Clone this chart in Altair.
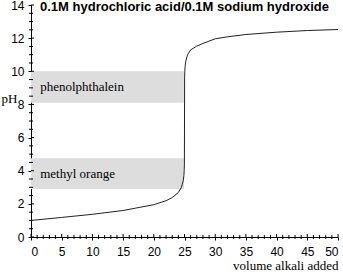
import altair as alt
import pandas as pd

# titration curve
volume = [0, 5, 10, 15, 20, 22, 23, 24, 24.5, 24.8, 24.9, 24.95, 24.98, 25.0,
          25.02, 25.05, 25.1, 25.2, 25.5, 26, 27, 28, 30, 32, 35, 40, 45, 50]
ph = [1.0, 1.18, 1.37, 1.6, 1.95, 2.19, 2.38, 2.69, 3.0, 3.4, 3.7, 4.0, 4.4, 7.0,
      9.6, 10.0, 10.3, 10.6, 11.0, 11.29, 11.52, 11.68, 11.96, 12.08, 12.22, 12.36, 12.46, 12.52]

band_names = ["phenolphthalein", "methyl orange"]
band_low = [8.1, 2.9]
band_high = [10.0, 4.75]
band_start = [0, 0]
band_end = [24.9, 24.9]
label_x = [1.5, 1.5]

x_ticks = list(range(0, 51, 5))
y_ticks = list(range(0, 15, 2))
x_minor = [v for v in range(0, 51) if v % 5 != 0]
y_minor = [v / 2 for v in range(0, 29) if v % 4 != 0]

W, H = 307, 232

curve = pd.DataFrame({"v": volume, "pH": ph})
bands = pd.DataFrame({"name": band_names, "lo": band_low, "hi": band_high,
                      "x0": band_start, "x1": band_end, "tx": label_x})
bands["mid"] = (bands["lo"] + bands["hi"]) / 2

xs = alt.Scale(domain=[0, 50], nice=False, zero=False)
ys = alt.Scale(domain=[0, 14], nice=False, zero=False)

LABEL_FONT = "Liberation Sans Narrow, Liberation Sans, Arial"
SERIF = "Liberation Serif"

xaxis = alt.Axis(values=x_ticks, format="d", tickSize=3, labelPadding=6,
                 grid=False, title="volume alkali added", titleFont=SERIF,
                 titleFontSize=13, titleFontWeight="normal", titleAlign="right",
                 titleAnchor="end", titleX=307, titleY=32, titleBaseline="alphabetic",
                 titleColor="black")
yaxis = alt.Axis(values=y_ticks, format="d", tickSize=3, labelPadding=4,
                 grid=False, title="pH", titleFont=SERIF, titleFontSize=13,
                 titleFontWeight="normal", titleAngle=0, titleAlign="left",
                 titleX=-30, titleY=97, titleBaseline="alphabetic", titleColor="black")


def X(field):
    return alt.X(field, scale=xs, axis=xaxis, title="volume alkali added")


def Y(field):
    return alt.Y(field, scale=ys, axis=yaxis, title="pH")


rect = alt.Chart(bands).mark_rect(color="#dddddd").encode(
    x=X("x0:Q"), x2="x1:Q", y=Y("lo:Q"), y2="hi:Q",
)

text = alt.Chart(bands).mark_text(align="left", baseline="middle", font=SERIF,
                                  fontSize=13, color="black").encode(
    x=X("tx:Q"), y=Y("mid:Q"), text="name:N",
)

line = alt.Chart(curve).mark_line(color="#222222", strokeWidth=1).encode(
    x=X("v:Q"), y=Y("pH:Q"),
)

xmaj_in = alt.Chart(pd.DataFrame({"t": x_ticks})).mark_rule(color="black").encode(
    x=X("t:Q"), y=alt.value(H - 3), y2=alt.value(H))
xmin_t = alt.Chart(pd.DataFrame({"t": x_minor})).mark_rule(color="black").encode(
    x=X("t:Q"), y=alt.value(H - 2), y2=alt.value(H + 2))
ymaj_in = alt.Chart(pd.DataFrame({"t": y_ticks})).mark_rule(color="black").encode(
    y=Y("t:Q"), x=alt.value(0), x2=alt.value(3))
ymin_t = alt.Chart(pd.DataFrame({"t": y_minor})).mark_rule(color="black").encode(
    y=Y("t:Q"), x=alt.value(-2), x2=alt.value(2))

chart = alt.layer(rect, xmaj_in, xmin_t, ymaj_in, ymin_t, text, line).properties(
    width=W, height=H,
    title=alt.TitleParams("0.1M hydrochloric acid/0.1M sodium hydroxide",
                          font="Liberation Sans", fontSize=13, fontWeight="bold",
                          color="black", anchor="middle", offset=0, dy=15),
    autosize=alt.AutoSizeParams(type="none"),
    padding={"left": 31, "top": 5, "right": 5, "bottom": 37},
).configure_view(stroke=None).configure_axis(
    labelFont=LABEL_FONT, labelFontSize=12, labelColor="black",
    tickColor="black", domainColor="black", tickWidth=1, domainWidth=1,
)

chart.save("out.html", embed_options={"renderer": "svg", "actions": False})
